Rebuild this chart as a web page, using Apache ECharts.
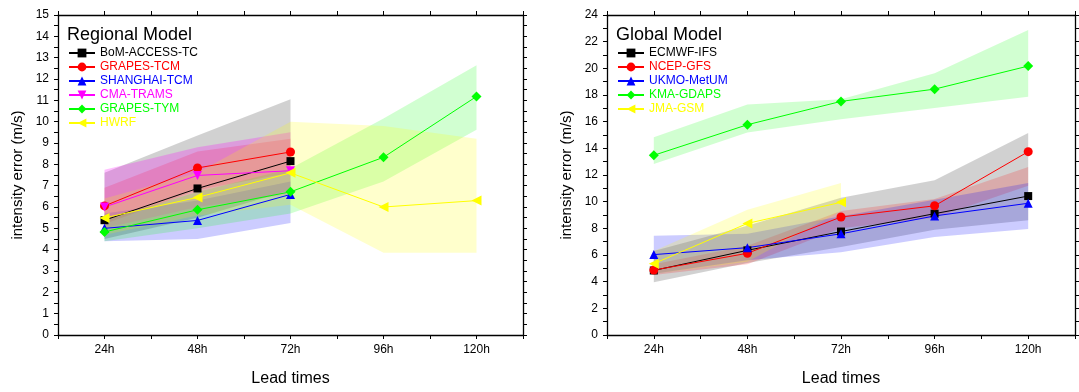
<!DOCTYPE html>
<html><head><meta charset="utf-8">
<script src="https://cdn.jsdelivr.net/npm/echarts@6/dist/echarts.min.js"></script>
<style>html,body{margin:0;padding:0;background:#fff}#c{width:1079px;height:392px}</style>
</head><body><div id="c"></div>
<script>
// ---- data ----
const categories = ['24h','48h','72h','96h','120h'];

// Regional models (means)
const bomAccessTc = [5.38, 6.87, 8.15];
const grapesTcm   = [6.05, 7.83, 8.58];
const shanghaiTcm = [5.0, 5.37, 6.59];
const cmaTrams    = [6.0, 7.48, 7.7];
const grapesTym   = [4.83, 5.87, 6.71, 8.33, 11.18];
const hwrf        = [5.49, 6.45, 7.6, 6.0, 6.3];
// Regional bands
const bomLow = [4.5, 5.5, 6.8],  bomHigh = [7.6, 9.35, 11.05];
const tcmLow = [5.2, 6.8, 7.6],  tcmHigh = [6.9, 8.6, 9.2];
const shLow  = [4.4, 4.5, 5.25], shHigh  = [5.7, 6.3, 7.2];
const cmaLow = [5.0, 6.0, 6.6],  cmaHigh = [7.75, 8.8, 9.5];
const tymLow = [4.4, 5.0, 5.7, 7.2, 9.62], tymHigh = [5.4, 6.7, 7.8, 10.15, 12.65];
const hwrfLow = [4.7, 5.6, 6.1, 3.85, 3.85], hwrfHigh = [6.4, 7.6, 10.0, 9.8, 9.2];

// Global models (means)
const ecmwfIfs  = [4.84, 6.35, 7.76, 9.1, 10.42];
const ncepGfs   = [4.87, 6.13, 8.85, 9.69, 13.75];
const ukmoMetum = [6.03, 6.55, 7.59, 8.93, 9.88];
const kmaGdaps  = [13.48, 15.77, 17.52, 18.44, 20.17];
const jmaGsm    = [5.35, 8.37, 9.95];
// Global bands
const ecLow = [3.95, 5.4, 6.6, 7.9, 8.6], ecHigh = [6.3, 8.2, 10.3, 11.6, 15.15];
const ncLow = [4.5, 5.3, 8.0, 8.8, 11.2], ncHigh = [5.3, 6.7, 9.3, 10.2, 12.6];
const ukLow = [4.6, 5.6, 6.2, 7.35, 7.95], ukHigh = [7.45, 7.6, 8.9, 10.15, 11.4];
const kmLow = [12.82, 15.18, 16.18, 17.03, 17.86], kmHigh = [14.84, 17.28, 17.69, 19.64, 22.87];
const jmLow = [4.6, 5.5, 9.3], jmHigh = [6.3, 9.4, 11.4];

const yLeftTicks = [0, 15];   // min / max of left y axis
const yRightTicks = [0, 24];  // min / max of right y axis

// ---- helpers ----
const FONT = 'Liberation Sans, Arial, sans-serif';
const pts = arr => arr.map((v, i) => [i + 1, v]);

function band(name, low, high, color, gi) {
  return {
    name: name, type: 'custom', xAxisIndex: gi * 2, yAxisIndex: gi * 2, silent: true, z: 1,
    data: low.map((v, i) => [i + 1, v, high[i]]),
    encode: { x: 0, y: [1, 2] },
    renderItem: function (params, api) {
      if (params.dataIndex !== 0) return;
      const top = high.map((v, i) => api.coord([i + 1, v]));
      const bot = low.map((v, i) => api.coord([i + 1, v])).reverse();
      return { type: 'polygon', shape: { points: top.concat(bot) }, style: { fill: color } };
    }
  };
}
function line(name, vals, color, symbol, rot, size, gi) {
  return {
    name: name, type: 'line', xAxisIndex: gi * 2, yAxisIndex: gi * 2, z: 5,
    data: pts(vals), symbol: symbol, symbolSize: size, symbolRotate: rot,
    showAllSymbol: true, animation: false,
    lineStyle: { color: color, width: 1 }, itemStyle: { color: color }
  };
}
function xAxes(gi) {
  const base = {
    gridIndex: gi, type: 'value', min: 0.5, max: 5.5, interval: 0.5,
    axisLine: { onZero: false, lineStyle: { color: '#000', width: 1.3 } },
    axisTick: { length: 4, lineStyle: { color: '#000', width: 1 } },
    splitLine: { show: false }
  };
  return [
    Object.assign({}, base, {
      position: 'bottom', name: 'Lead times', nameLocation: 'middle', nameGap: 36,
      nameTextStyle: { fontFamily: FONT, fontSize: 16, color: '#000' },
      axisLabel: { fontFamily: FONT, fontSize: 12, color: '#000', margin: 9,
        formatter: v => Number.isInteger(v) ? categories[v - 1] : '' }
    }),
    Object.assign({}, base, { position: 'top', axisLabel: { show: false } })
  ];
}
function yAxes(gi, max, interval) {
  const base = {
    gridIndex: gi, type: 'value', min: 0, max: max, interval: interval,
    axisLine: { show: true, onZero: false, lineStyle: { color: '#000', width: 1.3 } },
    axisTick: { show: true, length: 4, lineStyle: { color: '#000', width: 1 } },
    minorTick: { show: true, splitNumber: 2, length: 4, lineStyle: { color: '#000', width: 1 } },
    splitLine: { show: false }
  };
  return [
    Object.assign({}, base, {
      position: 'left', name: 'intensity error (m/s)', nameLocation: 'middle', nameGap: 33, nameRotate: 90,
      nameTextStyle: { fontFamily: FONT, fontSize: 15, color: '#000' },
      axisLabel: { fontFamily: FONT, fontSize: 12, color: '#000', margin: 9 }
    }),
    Object.assign({}, base, { position: 'right', axisLabel: { show: false } })
  ];
}
function legend(gi, left, items) {
  return {
    orient: 'vertical', left: left, top: 47, itemWidth: 26, itemHeight: 11, itemGap: 2,
    padding: 0, selectedMode: false, symbolRotate: 'inherit',
    textStyle: { fontFamily: FONT, fontSize: 12, lineHeight: 12 },
    data: items.map(it => ({ name: it[0], textStyle: { color: it[1] } }))
  };
}

const regional = [
  ['BoM-ACCESS-TC', '#000000'], ['GRAPES-TCM', '#ff0000'], ['SHANGHAI-TCM', '#0000ff'],
  ['CMA-TRAMS', '#ff00ff'], ['GRAPES-TYM', '#00ff00'], ['HWRF', '#ffff00']
];
const global = [
  ['ECMWF-IFS', '#000000'], ['NCEP-GFS', '#ff0000'], ['UKMO-MetUM', '#0000ff'],
  ['KMA-GDAPS', '#00ff00'], ['JMA-GSM', '#ffff00']
];

const option = {
  animation: false,
  backgroundColor: '#fff',
  title: [
    { text: 'Regional Model', left: 67, top: 26, padding: 0, textStyle: { fontFamily: FONT, fontSize: 18, fontWeight: 'normal', color: '#000' } },
    { text: 'Global Model', left: 616, top: 26, padding: 0, textStyle: { fontFamily: FONT, fontSize: 18, fontWeight: 'normal', color: '#000' } }
  ],
  legend: [legend(0, 68, regional), legend(1, 617, global)],
  grid: [
    { left: 58, top: 15, width: 465, height: 328 },
    { left: 607, top: 15, width: 468, height: 329 }
  ],
  xAxis: xAxes(0).concat(xAxes(1)),
  yAxis: yAxes(0, yLeftTicks[1], 1).concat(yAxes(1, yRightTicks[1], 2)),
  series: [
    band('b1', bomLow, bomHigh, 'rgba(0,0,0,0.18)', 0),
    band('b2', tcmLow, tcmHigh, 'rgba(255,0,0,0.18)', 0),
    band('b3', shLow, shHigh, 'rgba(0,0,255,0.2)', 0),
    band('b4', cmaLow, cmaHigh, 'rgba(255,0,255,0.25)', 0),
    band('b5', tymLow, tymHigh, 'rgba(0,255,0,0.18)', 0),
    band('b6', hwrfLow, hwrfHigh, 'rgba(255,255,0,0.2)', 0),
    line('BoM-ACCESS-TC', bomAccessTc, '#000000', 'rect', 0, 8, 0),
    line('GRAPES-TCM', grapesTcm, '#ff0000', 'circle', 0, 9, 0),
    line('SHANGHAI-TCM', shanghaiTcm, '#0000ff', 'triangle', 0, 9, 0),
    line('CMA-TRAMS', cmaTrams, '#ff00ff', 'triangle', 180, 9, 0),
    line('GRAPES-TYM', grapesTym, '#00ff00', 'diamond', 0, 10, 0),
    line('HWRF', hwrf, '#ffff00', 'triangle', 90, 10, 0),

    band('g1', ecLow, ecHigh, 'rgba(0,0,0,0.18)', 1),
    band('g2', ncLow, ncHigh, 'rgba(255,0,0,0.18)', 1),
    band('g3', ukLow, ukHigh, 'rgba(0,0,255,0.2)', 1),
    band('g4', kmLow, kmHigh, 'rgba(0,255,0,0.18)', 1),
    band('g5', jmLow, jmHigh, 'rgba(255,255,0,0.2)', 1),
    line('ECMWF-IFS', ecmwfIfs, '#000000', 'rect', 0, 8, 1),
    line('NCEP-GFS', ncepGfs, '#ff0000', 'circle', 0, 9, 1),
    line('UKMO-MetUM', ukmoMetum, '#0000ff', 'triangle', 0, 9, 1),
    line('KMA-GDAPS', kmaGdaps, '#00ff00', 'diamond', 0, 10, 1),
    line('JMA-GSM', jmaGsm, '#ffff00', 'triangle', 90, 10, 1)
  ]
};
const chart = echarts.init(document.getElementById('c'), null, { renderer: 'canvas' });
chart.setOption(option);
</script>
</body></html>
